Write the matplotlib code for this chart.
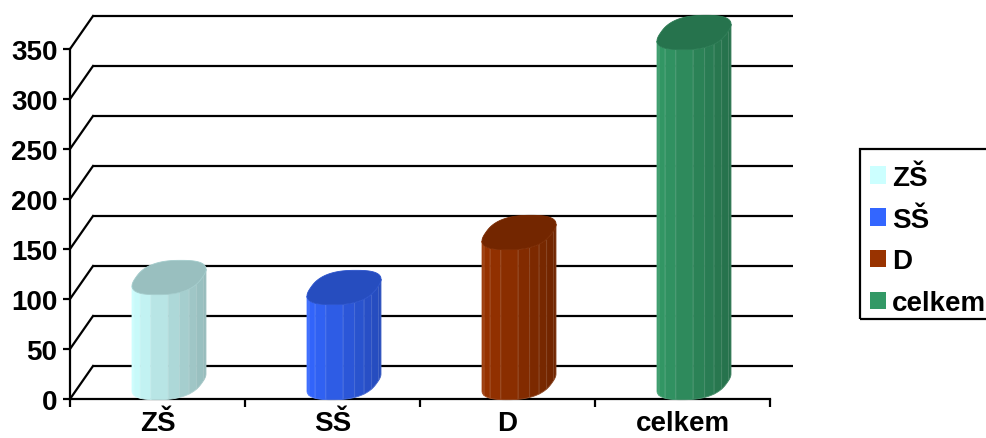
import numpy as np
import matplotlib
matplotlib.use('Agg')
import matplotlib.pyplot as plt
from matplotlib.patches import Polygon, Patch, Rectangle
from matplotlib.colors import to_rgb

plt.rcParams['font.family'] = ['Liberation Sans', 'DejaVu Sans']
plt.rcParams['font.weight'] = 'bold'

categories = ['ZŠ', 'SŠ', 'D', 'celkem']
values = [105, 95, 150, 350]
colors = ['#CCFFFF', '#3366FF', '#993300', '#339966']
yticks = [0, 50, 100, 150, 200, 250, 300, 350]

W, H = 987, 439
fig = plt.figure(figsize=(W / 100, H / 100), dpi=100)
ax = fig.add_axes([70 / W, 39 / H, 700 / W, 350 / H])
ax.set_xlim(0, len(categories))
ax.set_ylim(0, 350)

# 3D depth offset (in data units)
DX = 23 / 175.0
DY = 33.0

# back wall gridlines and left wall diagonals
for v in yticks:
    ax.plot([DX, len(categories) + DX], [v + DY, v + DY], color='black', lw=1.6,
            clip_on=False, zorder=1, solid_capstyle='butt')
    ax.plot([0, DX], [v, v + DY], color='black', lw=1.6, clip_on=False, zorder=1)


def shade(c, f):
    r, g, b = to_rgb(c)
    return (r * f, g * f, b * f)


def lighten(c, f):
    r, g, b = to_rgb(c)
    return (r + (1 - r) * f, g + (1 - g) * f, b + (1 - b) * f)


def sp(a, n=2.6):
    return np.sign(a) * np.abs(a) ** (2.0 / n)


def cylinder(i, v, color):
    rd = 0.52
    half_w = 37 / 175.0
    cx = i + 0.5 + DX * 0.5

    def shape(th, R):
        return R * sp(np.cos(th)) + rd * sp(np.sin(th)) * DX

    tt = np.linspace(0, 2 * np.pi, 1441)
    R = 0.2
    for _ in range(30):
        xs_ = shape(tt, R)
        R *= half_w / ((xs_.max() - xs_.min()) / 2)

    def P(th, base):
        x = cx + shape(th, R)
        y = base + DY * 0.5 + rd * sp(np.sin(th)) * DY
        return x, y

    xs_all = shape(tt, R)
    thL = tt[np.argmin(xs_all)]
    thR = tt[np.argmax(xs_all)]
    if thR < thL:
        thR += 2 * np.pi
    ths = np.linspace(thL, thR, 10)
    xl = P(ths[0], 0)[0]
    xr = P(ths[-1], 0)[0]
    for a, b in zip(ths[:-1], ths[1:]):
        seg = np.linspace(a, b, 8)
        xb_, yb_ = P(seg, 0)
        xt_, yt_ = P(seg[::-1], v)
        pts = np.column_stack([np.concatenate([xb_, xt_]), np.concatenate([yb_, yt_])])
        t = ((xb_[0] + xb_[-1]) / 2 - xl) / (xr - xl)
        fc = shade(color, 1 - 0.27 * t)
        poly = Polygon(pts, closed=True, facecolor=fc,
                       edgecolor=lighten(fc, 0.15), lw=0.6,
                       clip_on=False, zorder=3)
        ax.add_patch(poly)
    xs, ys = P(tt, v)
    top = Polygon(np.column_stack([xs, ys]), closed=True,
                  facecolor=shade(color, 0.75), edgecolor=shade(color, 0.8), lw=0.6,
                  clip_on=False, zorder=4)
    ax.add_patch(top)


for i, (v, c) in enumerate(zip(values, colors)):
    cylinder(i, v, c)

for s in ['top', 'right']:
    ax.spines[s].set_visible(False)
ax.spines['left'].set_linewidth(1.6)
ax.spines['bottom'].set_linewidth(1.6)

FS = 20
ax.set_yticks(yticks)
ax.set_yticklabels([str(t) for t in yticks], fontsize=FS, fontweight='bold')
ax.tick_params(axis='y', length=5, width=1.6, pad=4)

ax.set_xticks(range(len(categories) + 1))
ax.set_xticklabels([])
ax.tick_params(axis='x', which='major', length=6, width=1.6, direction='out')
ax.set_xticks([i + 0.5 for i in range(len(categories))], minor=True)
ax.set_xticklabels(categories, minor=True, fontsize=FS, fontweight='bold')
ax.tick_params(axis='x', which='minor', length=0, pad=8)

handles = [Patch(facecolor=c, edgecolor='none') for c in colors]
leg = fig.legend(handles, categories, loc='upper left',
                 bbox_to_anchor=(860 / W, 1 - 156 / H), borderaxespad=0,
                 fontsize=FS, frameon=False,
                 handlelength=0.6, handleheight=0.6, handletextpad=0.2,
                 labelspacing=0.57, borderpad=0.35)
for t in leg.get_texts():
    t.set_fontweight('bold')
fig.add_artist(Rectangle((860 / W, 1 - 320 / H), 200 / W, 170 / H,
                         transform=fig.transFigure, fill=False,
                         edgecolor='black', linewidth=1.6))

fig.savefig('out.png', dpi=100)
